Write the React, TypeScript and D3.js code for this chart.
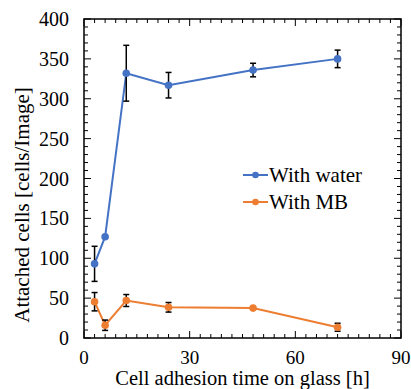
import React from "react";
import * as d3 from "d3";

const hours = [3, 6, 12, 24, 48, 72];
const waterMean = [93, 127, 332, 317, 336, 350];
const waterErr = [22, 0, 35, 16, 8.5, 11];
const mbMean = [45.5, 16, 47, 38.5, 37.5, 13.5];
const mbErr = [11.5, 6.5, 7.5, 6, 0, 5];
const xTicks = [0, 30, 60, 90];
const yTicks = [0, 50, 100, 150, 200, 250, 300, 350, 400];

const BLUE = "#4472C4";
const ORANGE = "#ED7D31";
const FONT = "'Liberation Serif', 'Times New Roman', serif";

const W = 411;
const H = 389;
const m = { left: 84, top: 19, right: 10, bottom: 51 };

export default function App() {
	const x = d3.scaleLinear().domain([0, 90]).range([m.left, W - m.right]);
	const y = d3.scaleLinear().domain([0, 400]).range([H - m.bottom, m.top]);
	const line = d3
		.line<number>()
		.x((d, i) => x(hours[i]))
		.y((d) => y(d));

	const xMinor = d3.range(0, 91, 3);
	const yMinor = d3.range(0, 401, 10);

	const series = [
		{ name: "With water", mean: waterMean, err: waterErr, color: BLUE },
		{ name: "With MB", mean: mbMean, err: mbErr, color: ORANGE }
	];

	const x0 = x(0), x1 = x(90), y0 = y(0), y1 = y(400);

	return (
		<svg
			width={W}
			height={H}
			style={{ position: "absolute", left: 0, top: 0 }}>
			<rect width={W} height={H} fill="#fff" />
			{/* ticks, all inside the frame */}
			<g stroke="#000" strokeWidth={1}>
				{xMinor.map((v) => {
					const len = v % 30 === 0 ? 7 : 4;
					return (
						<g key={"xt" + v}>
							<line x1={x(v)} x2={x(v)} y1={y0} y2={y0 - len} />
							<line x1={x(v)} x2={x(v)} y1={y1} y2={y1 + len} />
						</g>
					);
				})}
				{yMinor.map((v) => {
					const len = v % 50 === 0 ? 7 : 4;
					return (
						<g key={"yt" + v}>
							<line x1={x0} x2={x0 + len} y1={y(v)} y2={y(v)} />
							<line x1={x1} x2={x1 - len} y1={y(v)} y2={y(v)} />
						</g>
					);
				})}
			</g>
			<rect
				x={x0}
				y={y1}
				width={x1 - x0}
				height={y0 - y1}
				fill="none"
				stroke="#000"
				strokeWidth={1.5}
			/>
			{yTicks.map((v) => (
				<text
					key={"yl" + v}
					x={x0 - 15}
					y={y(v)}
					dy="0.35em"
					textAnchor="end"
					fontFamily={FONT}
					fontSize={20}>
					{v}
				</text>
			))}
			{xTicks.map((v) => (
				<text
					key={"xl" + v}
					x={x(v)}
					y={y0 + 19}
					dy="0.35em"
					textAnchor="middle"
					fontFamily={FONT}
					fontSize={19}>
					{v}
				</text>
			))}
			<text
				x={(x0 + x1) / 2}
				y={384.5}
				textAnchor="middle"
				fontFamily={FONT}
				fontSize={20.5}>
				Cell adhesion time on glass [h]
			</text>
			<text
				transform={`translate(29, 205) rotate(-90)`}
				textAnchor="middle"
				fontFamily={FONT}
				fontSize={21}>
				Attached cells [cells/Image]
			</text>
			{series.map((s) => (
				<g key={s.name}>
					<path d={line(s.mean) || ""} fill="none" stroke={s.color} strokeWidth={2} />
					{s.mean.map((v, i) =>
						s.err[i] > 0 ? (
							<g key={i} stroke="#000" strokeWidth={1.5}>
								<line x1={x(hours[i])} x2={x(hours[i])} y1={y(v - s.err[i])} y2={y(v + s.err[i])} />
								<line x1={x(hours[i]) - 3} x2={x(hours[i]) + 3} y1={y(v - s.err[i])} y2={y(v - s.err[i])} />
								<line x1={x(hours[i]) - 3} x2={x(hours[i]) + 3} y1={y(v + s.err[i])} y2={y(v + s.err[i])} />
							</g>
						) : null
					)}
					{s.mean.map((v, i) => (
						<circle key={"c" + i} cx={x(hours[i])} cy={y(v)} r={3.8} fill={s.color} />
					))}
				</g>
			))}
			{series.map((s, i) => (
				<g key={"lg" + s.name} transform={`translate(243, ${175 + i * 27})`}>
					<line x1={0} x2={25} y1={0} y2={0} stroke={s.color} strokeWidth={2} />
					<circle cx={12.5} cy={0} r={3.3} fill={s.color} />
					<text x={26} y={0} dy="0.35em" fontFamily={FONT} fontSize={21}>
						{s.name}
					</text>
				</g>
			))}
		</svg>
	);
}
